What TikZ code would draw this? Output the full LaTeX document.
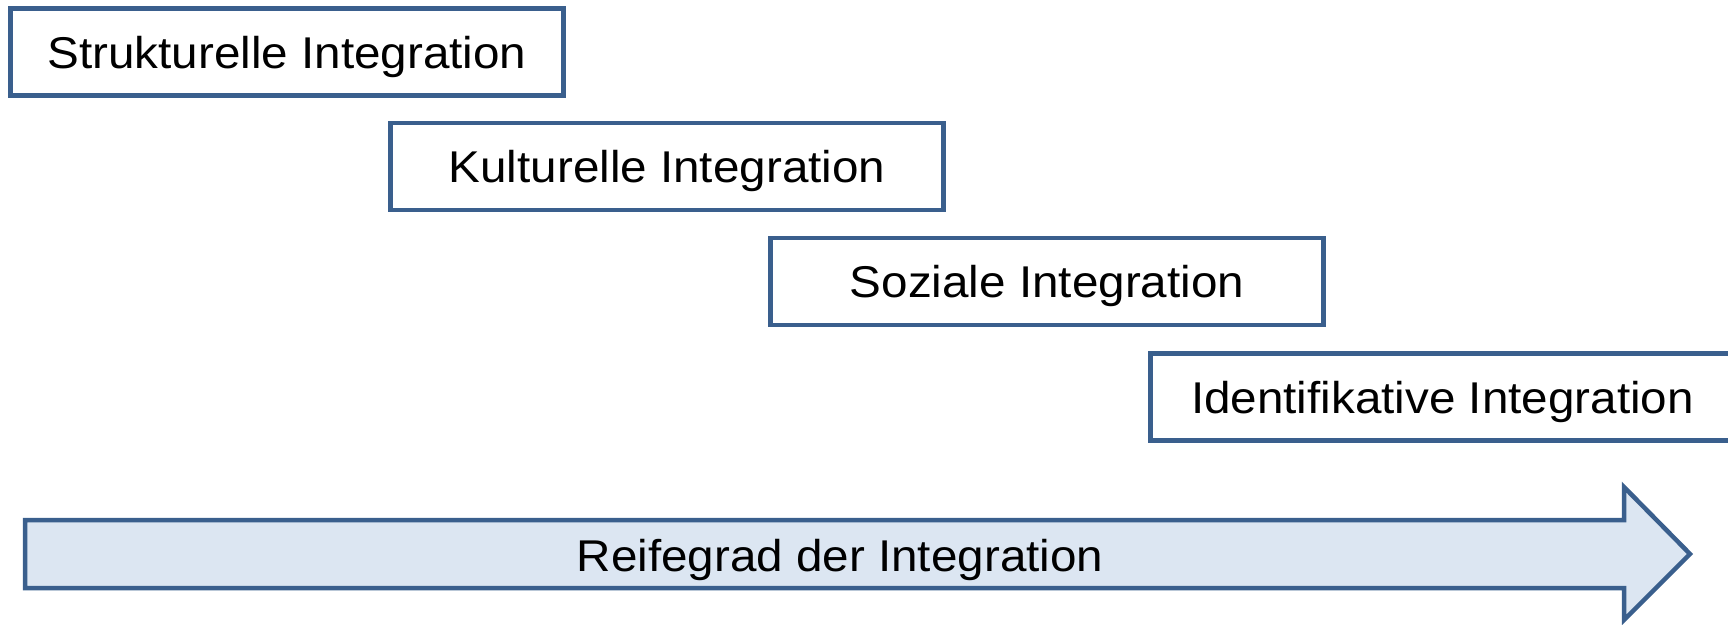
\documentclass[tikz,border=0pt]{standalone}
\usepackage{fontspec}
\setmainfont{Liberation Sans}
\definecolor{bord}{HTML}{3A5F8D}
\definecolor{afill}{HTML}{DCE6F2}
\newcommand{\wide}[1]{\scalebox{1.07}[1]{#1}}
\begin{document}
\begin{tikzpicture}[x=1pt,y=-1pt,
  box/.style={draw=bord, line width=4.5pt, fill=white, minimum height=87pt, inner sep=0pt,
    text height=40pt, text depth=8pt, font=\fontsize{44.5}{53}\selectfont},
  lbl/.style={font=\fontsize{44.5}{53}\selectfont, inner sep=0pt, text height=43pt, text depth=8pt}]
\useasboundingbox (0,0) rectangle (1728,624);
\begin{scope}
\clip (0,0) rectangle (1728,624);
\node[box, minimum width=553pt] (s) at (287,52) {\wide{Strukturelle Integration}};
\node[box, minimum width=553pt] (k) at (667,166.5) {\wide{Kulturelle Integration}};
\node[box, minimum width=553pt] (z) at (1047,281.5) {\wide{Soziale Integration}};
\node[box, minimum width=584pt] (i) at (1442.5,397) {\wide{Identifikative Integration}};
\draw[draw=bord, fill=afill, line width=4.5pt, line join=miter]
  (25,520) -- (1624,520) -- (1624,487) -- (1690,554) -- (1624,620) -- (1624,588) -- (25,588) -- cycle;
\node[lbl] (r) at (840,554) {\wide{Reifegrad der Integration}};
\end{scope}
\end{tikzpicture}
\end{document}
